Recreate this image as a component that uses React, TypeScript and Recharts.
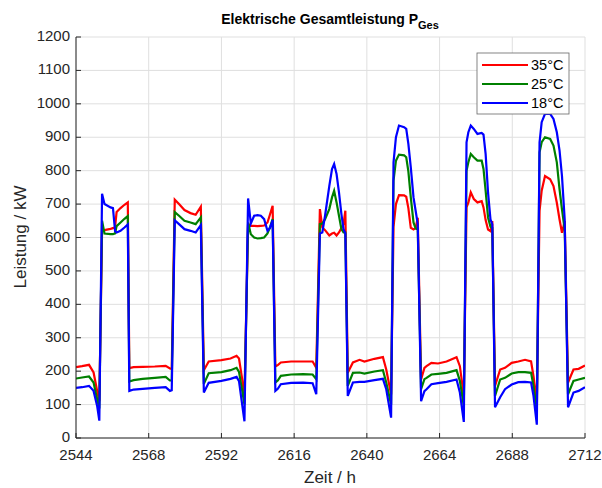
import React from 'react';
import { LineChart, Line, XAxis, YAxis, CartesianGrid } from 'recharts';

// Zeitpunkte (h) und Leistung je Raumtemperatur (kW)
const hours = [
  2544, 2546, 2548.3, 2549.8, 2551.0, 2551.7, 2552.6, 2553.4, 2555.4, 2556.2, 2556.9, 2557.4, 2558.7, 2560.0, 2561.1,
  2561.6, 2563, 2566, 2570, 2573.6, 2575.0, 2575.6, 2576.6, 2578, 2579.8, 2581.8, 2583.5, 2585.2,
  2586.2, 2587.8, 2592, 2595, 2597, 2597.8, 2598.7, 2599.6, 2600.8, 2601.7, 2602.8, 2603.9, 2605.0, 2606.1, 2607.2, 2608.0, 2608.9,
  2609.8, 2610.6, 2611.6, 2615, 2619, 2622.1, 2623.3, 2624.5, 2625.3, 2626.2, 2627.6, 2628.5, 2629.2, 2630.0, 2630.8, 2631.6, 2632.3, 2632.9,
  2633.7, 2635.4, 2637.6, 2639.2, 2642.5, 2645.3, 2646.4, 2648.0, 2648.8, 2649.6, 2650.6, 2652.3, 2653.0, 2653.7, 2654.5, 2655.4, 2656.1, 2656.8,
  2657.9, 2659.0, 2659.7, 2661.3, 2663.5, 2666.3, 2669.6, 2670.7, 2672.0, 2672.9, 2673.5, 2674.3, 2675.3, 2676.5, 2677.9, 2678.5, 2679.2, 2680.0, 2680.8, 2681.4,
  2682.3, 2684.0, 2685.6, 2687.8, 2690.0, 2692.2, 2694.2, 2695.0, 2696.1, 2697.0, 2697.7, 2698.8, 2700.5, 2701.6, 2702.7, 2703.6, 2704.4, 2705.3,
  2706.4, 2708.2, 2709.9, 2712,
];

const p35 = [
  212, 215, 219, 196, 140, 110, 620, 622, 626, 628, 632, 676, 688, 698, 705,
  209, 212, 213, 214, 216, 208, 207, 713, 700, 682, 673, 668, 692,
  203, 229, 233, 238, 246, 238, 185, 125, 640, 635, 635, 634, 635, 636, 645, 668, 695,
  214, 218, 226, 229, 229, 229, 210, 685, 630, 622, 606, 612, 614, 606, 615, 628, 640, 680,
  195, 226, 234, 229, 237, 242, 205, 130, 632, 700, 727, 726, 722, 688, 629, 624, 628, 659,
  175, 210, 215, 225, 223, 229, 242, 215, 125, 690, 704, 735, 715, 705, 709, 690, 652, 624, 619, 649,
  156, 205, 210, 225, 229, 234, 229, 185, 110, 680, 740, 784, 774, 754, 704, 654, 614, 649,
  166, 205, 207, 217,
];

const p25 = [
  178, 181, 184, 166, 115, 88, 650, 612, 610, 610, 612, 634, 645, 656, 664,
  169, 173, 177, 180, 183, 172, 172, 676, 665, 650, 645, 640, 660,
  162, 194, 197, 203, 210, 198, 150, 100, 645, 610, 600, 597, 598, 600, 612, 630, 655,
  166, 172, 186, 190, 191, 190, 176, 640, 642, 655, 685, 720, 740, 705, 665, 625, 615, 615,
  156, 195, 196, 193, 199, 203, 166, 100, 770, 830, 848, 846, 840, 798, 720, 645, 627, 624,
  146, 176, 180, 190, 192, 195, 203, 171, 95, 800, 825, 850, 840, 830, 830, 805, 740, 660, 632, 629,
  126, 175, 180, 193, 197, 197, 195, 156, 80, 855, 885, 900, 895, 875, 825, 744, 684, 624,
  131, 171, 175, 180,
];

const p18 = [
  150, 152, 156, 141, 95, 52, 731, 700, 690, 688, 619, 615, 620, 630, 639,
  141, 145, 147, 150, 152, 141, 143, 651, 640, 625, 620, 615, 637,
  136, 165, 171, 177, 183, 170, 110, 50, 717, 642, 665, 667, 665, 655, 620, 628, 652,
  141, 147, 161, 165, 166, 164, 131, 612, 615, 665, 754, 805, 820, 790, 735, 670, 625, 612,
  126, 166, 168, 168, 173, 177, 146, 61, 825, 900, 935, 930, 925, 880, 810, 720, 680, 640,
  110, 140, 146, 161, 164, 168, 175, 136, 48, 885, 915, 935, 925, 910, 913, 908, 850, 734, 654, 640,
  92, 122, 146, 160, 167, 168, 166, 126, 40, 885, 945, 970, 970, 955, 915, 860, 784, 654,
  92, 136, 141, 152,
];

const xTicks = [2544, 2568, 2592, 2616, 2640, 2664, 2688, 2712];
const yTicks = [0, 100, 200, 300, 400, 500, 600, 700, 800, 900, 1000, 1100, 1200];

const series = [
  { key: 'p35', name: '35°C', color: '#ff0000' },
  { key: 'p25', name: '25°C', color: '#008000' },
  { key: 'p18', name: '18°C', color: '#0000ff' },
];

const data = hours.map((t, i) => ({ t, p35: p35[i], p25: p25[i], p18: p18[i] }));

const FONT = '"Liberation Sans", Arial, Helvetica, sans-serif';
const AX = '#262626';

const XTick = ({ x, y, payload }: any) => (
  <g>
    <line x1={x} x2={x} y1={y} y2={y - 5} stroke={AX} />
    <text x={x} y={y + 21.5} textAnchor="middle" fontSize={15} fontFamily={FONT} fill={AX}>
      {payload.value}
    </text>
  </g>
);

const YTick = ({ x, y, payload }: any) => (
  <g>
    <line x1={x} x2={x + 5} y1={y} y2={y} stroke={AX} />
    <text x={x - 6} y={y + 4} textAnchor="end" fontSize={15} fontFamily={FONT} fill={AX}>
      {payload.value}
    </text>
  </g>
);

const TopTick = ({ x, y }: any) => <line x1={x} x2={x} y1={y} y2={y + 5} stroke={AX} />;
const RightTick = ({ x, y }: any) => <line x1={x} x2={x - 5} y1={y} y2={y} stroke={AX} />;

export default function App() {
  return (
    <div style={{ position: 'absolute', left: 0, top: 0, width: 602, height: 488, background: '#fff' }}>
      <LineChart width={602} height={488} data={data} margin={{ top: 37, right: 17, bottom: 0, left: 0 }}>
        <CartesianGrid stroke="#dfdfdf" strokeWidth={1} />
        <XAxis
          dataKey="t"
          type="number"
          domain={[2544, 2712]}
          ticks={xTicks}
          allowDataOverflow
          height={50}
          tickSize={0}
          tickMargin={0}
          tick={(p: any) => <XTick {...p} />}
          stroke={AX}
        />
        <XAxis
          xAxisId="top"
          orientation="top"
          type="number"
          domain={[2544, 2712]}
          ticks={xTicks}
          allowDataOverflow
          height={0}
          tickSize={0}
          tickMargin={0}
          tick={(p: any) => <TopTick {...p} />}
          stroke={AX}
        />
        <YAxis
          type="number"
          domain={[0, 1200]}
          ticks={yTicks}
          allowDataOverflow
          width={76}
          tickSize={0}
          tickMargin={0}
          tick={(p: any) => <YTick {...p} />}
          stroke={AX}
        />
        <YAxis
          yAxisId="right"
          orientation="right"
          type="number"
          domain={[0, 1200]}
          ticks={yTicks}
          allowDataOverflow
          width={0}
          tickSize={0}
          tickMargin={0}
          tick={(p: any) => <RightTick {...p} />}
          stroke={AX}
        />
        {series.map((s) => (
          <Line
            key={s.key}
            dataKey={s.key}
            name={s.name}
            type="linear"
            stroke={s.color}
            strokeWidth={2.2}
            dot={false}
            activeDot={false}
            isAnimationActive={false}
          />
        ))}
      </LineChart>

      <svg width={602} height={488} style={{ position: 'absolute', left: 0, top: 0, pointerEvents: 'none' }}>
        <text x={330} y={24} textAnchor="middle" fontFamily={FONT} fontSize={14} fontWeight="bold" fill="#000">
          Elektrische Gesamtleistung P
          <tspan dy={5} fontSize={11}>Ges</tspan>
        </text>
        <text x={330} y={483} textAnchor="middle" fontFamily={FONT} fontSize={17} fill={AX}>
          Zeit / h
        </text>
        <text
          x={0}
          y={0}
          transform="translate(26 237) rotate(-90)"
          textAnchor="middle"
          fontFamily={FONT}
          fontSize={17}
          fill={AX}
        >
          Leistung / kW
        </text>
        <g>
          <rect x={477} y={53} width={92} height={61} fill="#fff" stroke="#666" strokeWidth={0.8} />
          {series.map((s, i) => (
            <g key={s.key}>
              <line x1={482} x2={528} y1={65 + i * 19} y2={65 + i * 19} stroke={s.color} strokeWidth={2} />
              <text x={531} y={65 + i * 19 + 5} fontFamily={FONT} fontSize={14.5} fill="#000">
                {s.name}
              </text>
            </g>
          ))}
        </g>
      </svg>
    </div>
  );
}
